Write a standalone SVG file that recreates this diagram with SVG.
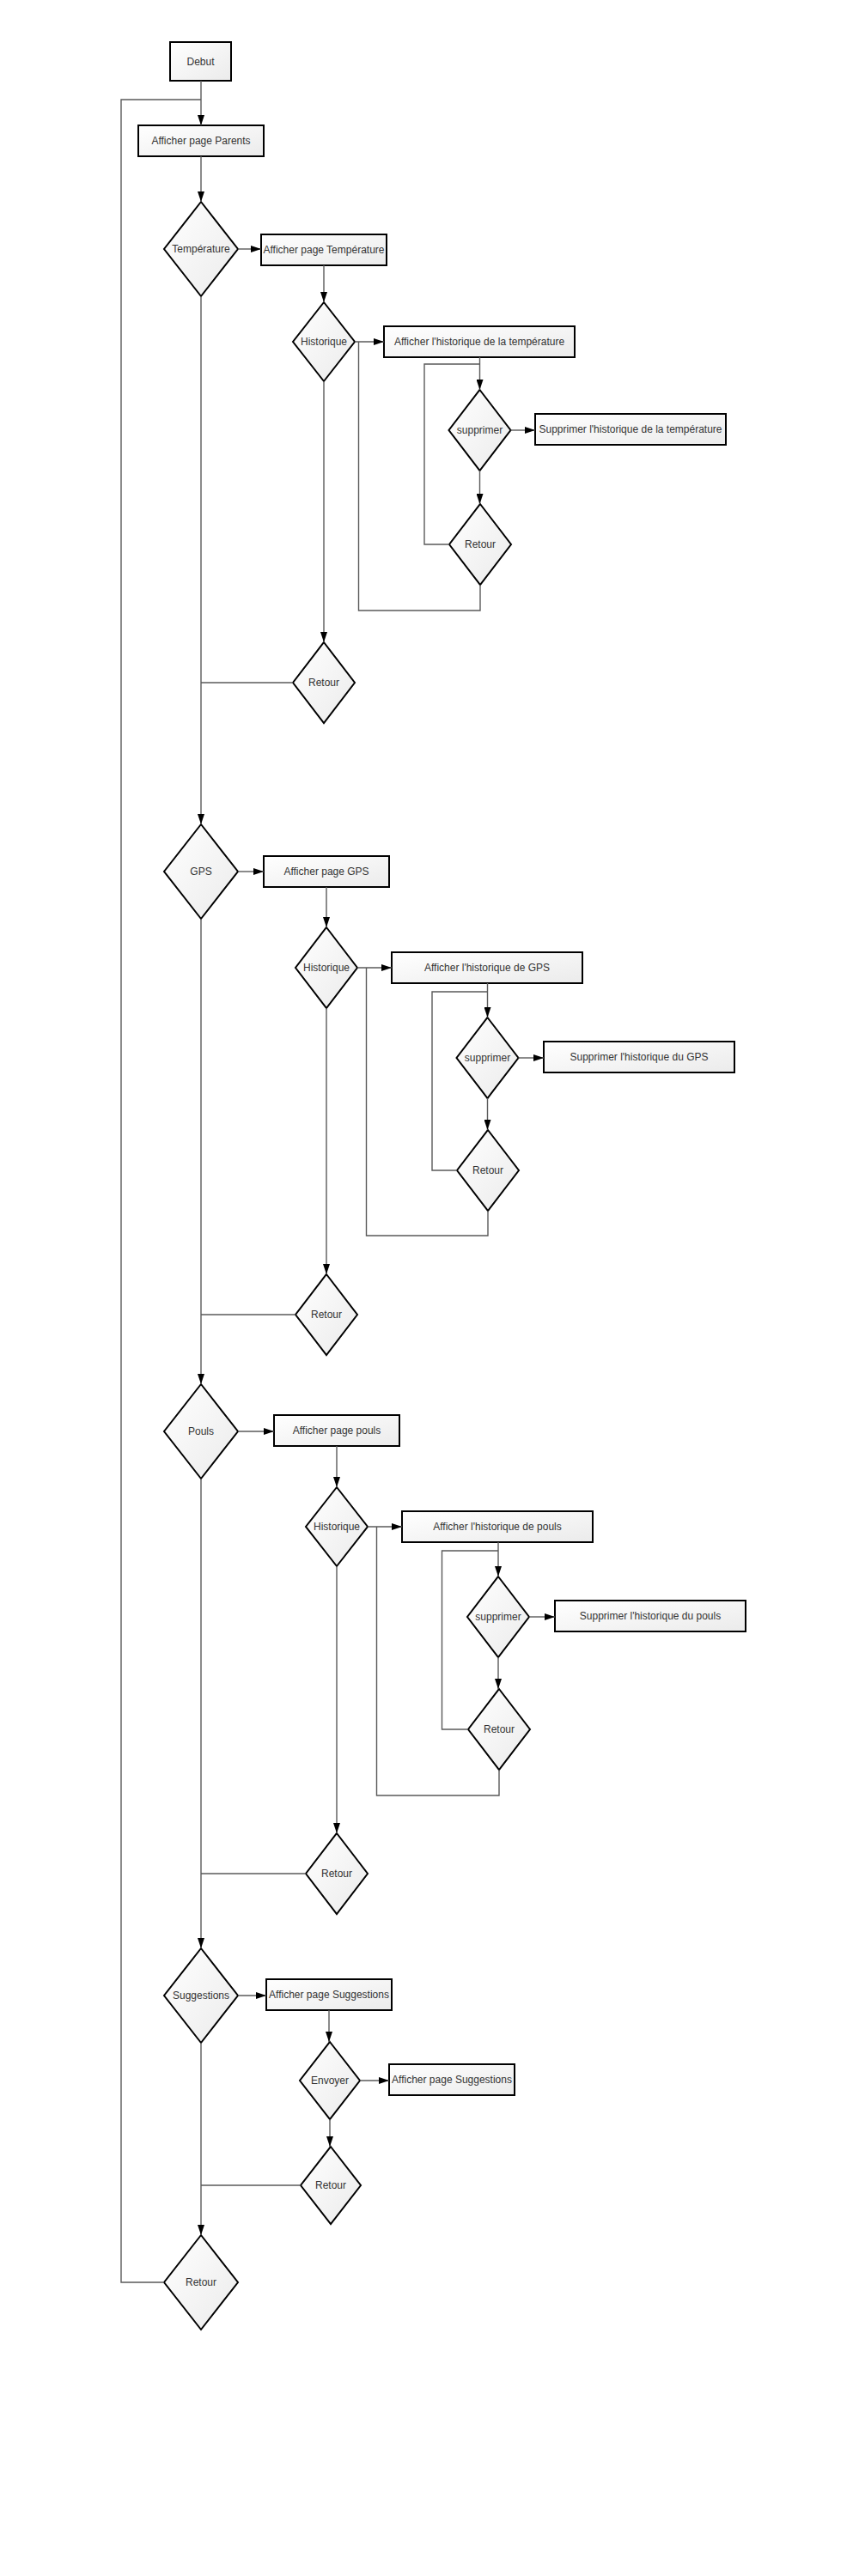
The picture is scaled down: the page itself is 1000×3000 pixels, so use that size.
<svg xmlns="http://www.w3.org/2000/svg" width="1000" height="3000" viewBox="0 0 1000 3000">
<defs>
<linearGradient id="g" x1="0" y1="0" x2="1" y2="1">
<stop offset="0" stop-color="#ffffff"/>
<stop offset="1" stop-color="#ebebeb"/>
</linearGradient>
<marker id="a" markerUnits="userSpaceOnUse" markerWidth="12" markerHeight="8" refX="12" refY="4" orient="auto">
<path d="M0,0 L12,4 L0,8 Z" fill="#000"/>
</marker>
</defs>
<style>
.n rect, .n polygon { fill: url(#g); stroke: #000; stroke-width: 2; }
.n text { font-family: "Liberation Sans", Arial, sans-serif; font-size: 12px; fill: #333; text-anchor: middle; }
#connectors path { fill: none; stroke: #5a5a5a; stroke-width: 1.4; }
#connectors path.ar { marker-end: url(#a); }
</style>
<rect width="1000" height="3000" fill="#fff"/>
<g id="nodes">
<g class="n" id="debut"><rect x="198" y="49" width="71" height="45"/><text x="233.5" y="75.5">Debut</text></g>
<g class="n" id="parents"><rect x="161" y="146" width="146" height="36"/><text x="234" y="168">Afficher page Parents</text></g>

<g class="n" id="d_temp"><polygon points="234,235 277,290 234,345 191,290"/><text x="234" y="294">Température</text></g>
<g class="n" id="page_temp"><rect x="304" y="273" width="146" height="36"/><text x="377" y="295">Afficher page Température</text></g>
<g class="n" id="hist_temp"><polygon points="377,352 413,398 377,444 341,398"/><text x="377" y="402">Historique</text></g>
<g class="n" id="histbox_temp"><rect x="447" y="380" width="222" height="36"/><text x="558" y="402">Afficher l'historique de la température</text></g>
<g class="n" id="supp_temp"><polygon points="558.5,454 594.5,501 558.5,548 522.5,501"/><text x="558.5" y="505">supprimer</text></g>
<g class="n" id="suppbox_temp"><rect x="623" y="482" width="222" height="36"/><text x="734" y="504">Supprimer l'historique de la température</text></g>
<g class="n" id="retin_temp"><polygon points="559,587 595,634 559,681 523,634"/><text x="559" y="638">Retour</text></g>
<g class="n" id="retout_temp"><polygon points="377,748 413,795 377,842 341,795"/><text x="377" y="799">Retour</text></g>

<g class="n" id="d_gps"><polygon points="234,960 277,1015 234,1070 191,1015"/><text x="234" y="1019">GPS</text></g>
<g class="n" id="page_gps"><rect x="307" y="997" width="146" height="36"/><text x="380" y="1019">Afficher page GPS</text></g>
<g class="n" id="hist_gps"><polygon points="380,1080 416,1127 380,1174 344,1127"/><text x="380" y="1131">Historique</text></g>
<g class="n" id="histbox_gps"><rect x="456" y="1109" width="222" height="36"/><text x="567" y="1131">Afficher l'historique de GPS</text></g>
<g class="n" id="supp_gps"><polygon points="567.5,1185 603.5,1232 567.5,1279 531.5,1232"/><text x="567.5" y="1236">supprimer</text></g>
<g class="n" id="suppbox_gps"><rect x="633" y="1213" width="222" height="36"/><text x="744" y="1235">Supprimer l'historique du GPS</text></g>
<g class="n" id="retin_gps"><polygon points="568,1316 604,1363 568,1410 532,1363"/><text x="568" y="1367">Retour</text></g>
<g class="n" id="retout_gps"><polygon points="380,1484 416,1531 380,1578 344,1531"/><text x="380" y="1535">Retour</text></g>

<g class="n" id="d_pouls"><polygon points="234,1612 277,1667 234,1722 191,1667"/><text x="234" y="1671">Pouls</text></g>
<g class="n" id="page_pouls"><rect x="319" y="1648" width="146" height="36"/><text x="392" y="1670">Afficher page pouls</text></g>
<g class="n" id="hist_pouls"><polygon points="392,1732 428,1778 392,1824 356,1778"/><text x="392" y="1782">Historique</text></g>
<g class="n" id="histbox_pouls"><rect x="468" y="1760" width="222" height="36"/><text x="579" y="1782">Afficher l'historique de pouls</text></g>
<g class="n" id="supp_pouls"><polygon points="580,1836 616,1883 580,1930 544,1883"/><text x="580" y="1887">supprimer</text></g>
<g class="n" id="suppbox_pouls"><rect x="646" y="1864" width="222" height="36"/><text x="757" y="1886">Supprimer l'historique du pouls</text></g>
<g class="n" id="retin_pouls"><polygon points="581,1967 617,2014 581,2061 545,2014"/><text x="581" y="2018">Retour</text></g>
<g class="n" id="retout_pouls"><polygon points="392,2135 428,2182 392,2229 356,2182"/><text x="392" y="2186">Retour</text></g>

<g class="n" id="d_sugg"><polygon points="234,2269 277,2324 234,2379 191,2324"/><text x="234" y="2328">Suggestions</text></g>
<g class="n" id="page_sugg"><rect x="310" y="2305" width="146" height="36"/><text x="383" y="2327">Afficher page Suggestions</text></g>
<g class="n" id="envoyer"><polygon points="384,2378 419,2423 384,2468 349,2423"/><text x="384" y="2427">Envoyer</text></g>
<g class="n" id="page_sugg2"><rect x="453" y="2404" width="146" height="36"/><text x="526" y="2426">Afficher page Suggestions</text></g>
<g class="n" id="ret_sugg"><polygon points="385,2500 420,2545 385,2590 350,2545"/><text x="385" y="2549">Retour</text></g>
<g class="n" id="ret_final"><polygon points="234,2603 277,2658 234,2713 191,2658"/><text x="234" y="2662">Retour</text></g>
</g>
<g id="connectors">
<path class="ar" d="M234,94 V146"/>
<path class="ar" d="M234,182 V235"/>
<path class="ar" d="M277,290 H304"/>
<path class="ar" d="M377,309 V352"/>
<path class="ar" d="M413,398 H447"/>
<path class="ar" d="M558.5,416 V454"/>
<path class="ar" d="M594.5,501 H623"/>
<path class="ar" d="M558.5,548 V587"/>
<path d="M523,634 H494 V424 H558.5"/>
<path d="M559,681 V711 H417.5 V398"/>
<path class="ar" d="M377,444 V748"/>
<path d="M341,795 H234"/>
<path class="ar" d="M234,345 V960"/>

<path class="ar" d="M277,1015 H307"/>
<path class="ar" d="M380,1033 V1080"/>
<path class="ar" d="M416,1127 H456"/>
<path class="ar" d="M567.5,1145 V1185"/>
<path class="ar" d="M603.5,1232 H633"/>
<path class="ar" d="M567.5,1279 V1316"/>
<path d="M532,1363 H503 V1155 H567.5"/>
<path d="M568,1410 V1439 H426.5 V1127"/>
<path class="ar" d="M380,1174 V1484"/>
<path d="M344,1531 H234"/>
<path class="ar" d="M234,1070 V1612"/>

<path class="ar" d="M277,1667 H319"/>
<path class="ar" d="M392,1684 V1732"/>
<path class="ar" d="M428,1778 H468"/>
<path class="ar" d="M580,1796 V1836"/>
<path class="ar" d="M616,1883 H646"/>
<path class="ar" d="M580,1930 V1967"/>
<path d="M545,2014 H514.5 V1806 H580"/>
<path d="M581,2061 V2091 H438.5 V1778"/>
<path class="ar" d="M392,1824 V2135"/>
<path d="M356,2182 H234"/>
<path class="ar" d="M234,1722 V2269"/>

<path class="ar" d="M277,2324 H310"/>
<path class="ar" d="M383,2341 V2378"/>
<path class="ar" d="M419,2423 H453"/>
<path class="ar" d="M384,2468 V2500"/>
<path d="M350,2545 H234"/>
<path class="ar" d="M234,2379 V2603"/>
<path d="M191,2658 H141 V116 H234"/>
</g>
</svg>
